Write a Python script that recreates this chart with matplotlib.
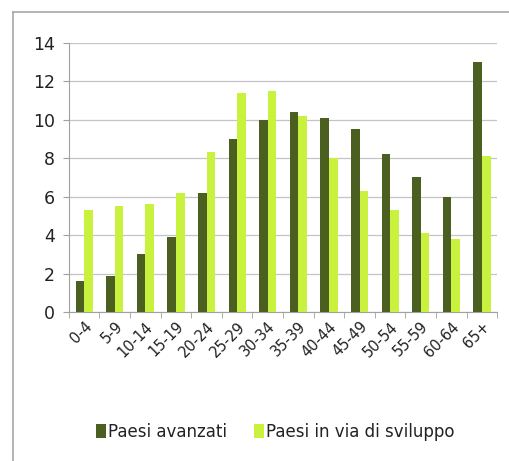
import matplotlib
matplotlib.use("Agg")
import matplotlib.pyplot as plt
import numpy as np

plt.rcParams['font.family'] = ['DejaVu Sans']

fasce = ["0-4", "5-9", "10-14", "15-19", "20-24", "25-29", "30-34", "35-39",
         "40-44", "45-49", "50-54", "55-59", "60-64", "65+"]
avanzati = [1.6, 1.9, 3.0, 3.9, 6.2, 9.0, 10.0, 10.4, 10.1, 9.5, 8.2, 7.0, 6.0, 13.0]
sviluppo = [5.3, 5.5, 5.6, 6.2, 8.3, 11.4, 11.5, 10.2, 8.0, 6.3, 5.3, 4.1, 3.8, 8.1]

fig = plt.figure(figsize=(5.1, 4.61), dpi=100)
ax = fig.add_axes([0.135, 0.323, 0.840, 0.584])

xpos = np.arange(len(fasce))
w = 0.28
ax.bar(xpos - w/2, avanzati, width=w, color="#4b5f20", label="Paesi avanzati", zorder=3)
ax.bar(xpos + w/2, sviluppo, width=w, color="#c9f23e", label="Paesi in via di sviluppo", zorder=3)

ax.set_xlim(-0.5, len(fasce) - 0.5)
ax.set_ylim(0, 14)
ax.set_yticks(range(0, 15, 2))
ax.yaxis.grid(True, color="#c4c4c4", linewidth=0.9, zorder=0)

ax.set_xticks(xpos)
ax.set_xticklabels(fasce, rotation=45, ha="right", rotation_mode="anchor", fontsize=10.5, color="#222222")
ax.set_xticks(np.arange(-0.5, len(fasce), 1), minor=True)
ax.tick_params(axis="x", which="major", length=0, pad=5)
ax.tick_params(axis="x", which="minor", length=4, color="#a0a0a0")
ax.tick_params(axis="y", length=4, color="#a0a0a0", labelsize=12.5, pad=6, labelcolor="#222222")

for s in ["top", "right"]:
    ax.spines[s].set_visible(False)
ax.spines["left"].set_color("#a0a0a0")
ax.spines["bottom"].set_color("#a0a0a0")

ax.legend(loc="center", bbox_to_anchor=(0.54, 0.063), bbox_transform=fig.transFigure,
          ncol=2, frameon=False, fontsize=12, handlelength=0.6, handleheight=0.9,
          handletextpad=0.15, columnspacing=1.6, labelcolor="#222222")

# outer frame lines like the original picture
fig.add_artist(plt.Line2D([0.025, 0.025], [0, 0.974], color="#a8a8a8", linewidth=1.2))
fig.add_artist(plt.Line2D([0.025, 1], [0.974, 0.974], color="#a8a8a8", linewidth=1.2))

fig.savefig("out.png", dpi=100)
